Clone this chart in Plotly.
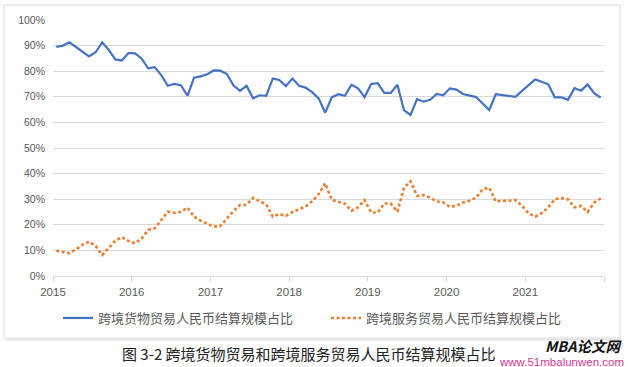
import plotly.graph_objects as go

years = ["2015", "2016", "2017", "2018", "2019", "2020", "2021"]

goods = [89.5, 90.0, 91.3, 89.5, 87.5, 85.8, 87.4, 91.3, 88.3, 84.6, 84.2, 87.1,
         87.0, 85.0, 81.1, 81.6, 78.5, 74.3, 75.0, 74.5, 70.4, 77.5, 78.0, 78.8,
         80.3, 80.2, 78.9, 74.5, 72.3, 74.3, 69.4, 70.6, 70.4, 77.1, 76.6, 74.2,
         77.1, 74.3, 73.6, 71.8, 69.4, 63.8, 69.8, 71.0, 70.4, 74.7, 73.3, 69.9,
         75.0, 75.3, 71.5, 71.5, 74.7, 64.8, 62.9, 69.1, 68.1, 68.8, 71.1, 70.6,
         73.3, 72.8, 71.1, 70.6, 69.9, 67.4, 64.8, 71.0, 70.7, 70.4, 70.0, 72.3,
         74.6, 76.8, 75.9, 74.9, 69.8, 69.8, 68.8, 73.4, 72.4, 74.8, 71.4, 69.7]

services = [9.9, 9.4, 8.9, 10.4, 12.2, 13.4, 11.7, 8.2, 10.8, 13.8, 15.2, 13.7,
            12.8, 14.6, 18.0, 18.6, 21.9, 25.1, 24.7, 25.1, 26.7, 23.2, 21.6, 20.3,
            19.3, 19.5, 22.5, 25.3, 27.7, 27.8, 30.5, 29.4, 28.0, 23.2, 24.2, 23.5,
            25.0, 26.1, 27.1, 29.2, 32.0, 36.2, 29.7, 29.0, 28.3, 25.5, 26.8, 29.6,
            24.8, 24.8, 28.3, 28.3, 25.1, 34.5, 37.0, 31.3, 31.6, 30.6, 29.1, 28.7,
            27.0, 27.4, 28.7, 29.4, 30.6, 33.9, 34.5, 29.1, 29.4, 29.4, 29.7, 27.4,
            24.5, 23.2, 24.5, 26.8, 30.0, 30.4, 30.0, 26.8, 27.4, 25.0, 28.7, 30.3]

names = ["跨境货物贸易人民币结算规模占比", "跨境服务贸易人民币结算规模占比"]
months = list(range(len(goods)))

fig = go.Figure()
fig.add_trace(go.Scatter(x=months, y=[v / 100 for v in goods], mode="lines", name=names[0],
                         line=dict(color="#4472C4", width=2.2)))
fig.add_trace(go.Scatter(x=months, y=[v / 100 for v in services], mode="lines", name=names[1],
                         line=dict(color="#ED7D31", width=2.6, dash="3px,2.5px")))

tickvals = [-0.5 + 12 * i for i in range(len(years) + 1)]
ticktext = years + [""]

fig.update_layout(
    width=628, height=367,
    margin=dict(l=53, r=24, t=20, b=91, autoexpand=False),
    paper_bgcolor="white", plot_bgcolor="white",
    font=dict(family="Noto Sans CJK SC, Liberation Sans", color="#595959"),
    xaxis=dict(range=[-0.5, 83.5], tickvals=tickvals, ticktext=ticktext,
               showgrid=False, zeroline=False, showline=True, linecolor="#d9d9d9", linewidth=1,
               ticks="outside", ticklen=5, tickcolor="#d9d9d9",
               tickfont=dict(family="Liberation Sans", size=11.5, color="#595959")),
    yaxis=dict(range=[0, 1], dtick=0.1, tickformat=".0%", showgrid=True, gridcolor="#d9d9d9",
               gridwidth=1, zeroline=False, showline=False, ticks="", ticklabelstandoff=7,
               tickfont=dict(family="Liberation Sans", size=10.5, color="#595959")),
    legend=dict(orientation="h", x=(58 - 53) / 551, xanchor="left", y=(276 - 318) / 256,
                yanchor="middle", font=dict(size=13, color="#595959"),
                entrywidth=223, entrywidthmode="pixels", bgcolor="rgba(0,0,0,0)"),
    showlegend=True,
)

# chart frame
fig.add_shape(type="rect", xref="paper", yref="paper",
              x0=(4 - 53) / 551, x1=(620 - 53) / 551,
              y0=(276 - 338) / 256, y1=(276 - 5) / 256,
              line=dict(color="#d9d9d9", width=1), layer="below")
fig.add_shape(type="line", xref="paper", yref="paper",
              x0=(6 - 53) / 551, x1=(621 - 53) / 551,
              y0=(276 - 339.5) / 256, y1=(276 - 339.5) / 256,
              line=dict(color="#e3e3e3", width=2), layer="below")

fig.add_annotation(text="图 3-2 跨境货物贸易和跨境服务贸易人民币结算规模占比", xref="paper", yref="paper",
                   x=(309 - 53) / 551, y=(276 - 353) / 256, showarrow=False,
                   font=dict(family="Noto Sans CJK SC", size=15, color="#222222"),
                   xanchor="center", yanchor="middle")
fig.add_annotation(text="<b><i>MBA论文网</i></b>", xref="paper", yref="paper",
                   x=(625 - 53) / 551, y=(276 - 345) / 256, showarrow=False,
                   font=dict(family="Noto Sans CJK SC", size=14.5, color="#111111"),
                   xanchor="right", yanchor="middle")
fig.add_annotation(text="www.51mbalunwen.com", xref="paper", yref="paper",
                   x=(626 - 53) / 551, y=(276 - 362) / 256, showarrow=False,
                   font=dict(family="Liberation Sans", size=11.5, color="#d9368f"),
                   xanchor="right", yanchor="middle")

fig.write_html("out.html", config={"displayModeBar": False},
               post_script="document.body.style.margin='0';document.body.style.overflow='hidden';")
